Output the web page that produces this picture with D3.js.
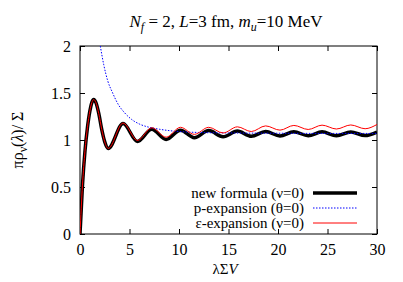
<!DOCTYPE html>
<html>
<head>
<meta charset="utf-8">
<script src="https://cdn.jsdelivr.net/npm/d3@7"></script>
<style>
body { margin: 0; background: #fff; }
text { font-family: "Liberation Serif", "Times New Roman", serif; }
</style>
</head>
<body>
<script>
var width = 403;
var height = 282;

// new formula (nu=0)
var newX = [0, 0.25, 0.5, 0.75, 1.0, 1.2, 1.38, 1.6, 1.9, 2.2, 2.5, 2.85, 4.35, 5.8, 7.25, 8.7, 10.15, 11.55, 13.0, 14.45, 15.9, 17.3, 18.75, 20.2, 21.6, 23.05, 24.45, 25.9, 27.35, 28.8, 30];
var newY = [0, 0.52, 0.88, 1.13, 1.31, 1.40, 1.43, 1.40, 1.28, 1.11, 0.98, 0.91, 1.175, 0.985, 1.115, 1.005, 1.105, 1.025, 1.10, 1.035, 1.095, 1.04, 1.09, 1.043, 1.088, 1.045, 1.087, 1.045, 1.086, 1.047, 1.085];

// p-expansion (theta=0)
var pX = [2.05, 2.4, 2.8, 3.3, 3.8, 4.5, 5.2, 6, 7, 8, 9, 10, 12, 15, 20, 25, 30];
var pY = [2.0, 1.8, 1.63, 1.5, 1.39, 1.29, 1.22, 1.17, 1.135, 1.115, 1.10, 1.09, 1.08, 1.075, 1.072, 1.07, 1.07];

// epsilon-expansion (nu=0)
var epsX = [0, 0.25, 0.5, 0.75, 1.0, 1.2, 1.38, 1.6, 1.9, 2.2, 2.5, 2.85, 4.35, 5.8, 7.25, 8.7, 10.15, 11.55, 13.0, 14.45, 15.9, 17.3, 18.75, 20.2, 21.6, 23.05, 24.45, 25.9, 27.35, 28.8, 30];
var epsY = [0, 0.52, 0.88, 1.13, 1.31, 1.40, 1.43, 1.40, 1.28, 1.11, 0.98, 0.91, 1.18, 0.995, 1.13, 1.03, 1.135, 1.06, 1.135, 1.075, 1.14, 1.09, 1.15, 1.105, 1.155, 1.112, 1.158, 1.117, 1.16, 1.12, 1.165];

var xTicks = [0, 5, 10, 15, 20, 25, 30];
var yTicks = [0, 0.5, 1, 1.5, 2];

var legendLabels = ["new formula (\u03bd=0)", "p-expansion (\u03b8=0)", "\u03b5-expansion (\u03bd=0)"];

var plotLeft = 80, plotRight = 377, plotTop = 46, plotBottom = 234;

var svg = d3.select("body").append("svg")
    .attr("width", width)
    .attr("height", height);

var xScale = d3.scaleLinear().domain([0, 30]).range([plotLeft, plotRight]);
var yScale = d3.scaleLinear().domain([0, 2]).range([plotBottom, plotTop]);

svg.append("defs").append("clipPath").attr("id", "clip")
    .append("rect")
    .attr("x", plotLeft).attr("y", plotTop)
    .attr("width", plotRight - plotLeft).attr("height", plotBottom - plotTop);

// axes with inward ticks, mirrored
var tickFont = 16;
var xAxis = d3.axisBottom(xScale).tickValues(xTicks).tickSizeInner(-5).tickSizeOuter(0).tickPadding(10);
var xAxisTop = d3.axisTop(xScale).tickValues(xTicks).tickSizeInner(-5).tickSizeOuter(0).tickFormat("");
var yAxis = d3.axisLeft(yScale).tickValues(yTicks).tickSizeInner(-5).tickSizeOuter(0).tickPadding(9).tickFormat(d3.format("~g"));
var yAxisRight = d3.axisRight(yScale).tickValues(yTicks).tickSizeInner(-5).tickSizeOuter(0).tickFormat("");

svg.append("g").attr("transform", "translate(0," + plotBottom + ")").call(xAxis);
svg.append("g").attr("transform", "translate(0," + plotTop + ")").call(xAxisTop);
svg.append("g").attr("transform", "translate(" + plotLeft + ",0)").call(yAxis);
svg.append("g").attr("transform", "translate(" + plotRight + ",0)").call(yAxisRight);

svg.selectAll(".domain").remove();
svg.selectAll(".tick line").attr("stroke", "#000");
svg.selectAll(".tick text")
    .attr("font-family", "Liberation Serif, serif")
    .attr("font-size", tickFont)
    .attr("fill", "#000");

svg.append("rect")
    .attr("x", plotLeft).attr("y", plotTop)
    .attr("width", plotRight - plotLeft).attr("height", plotBottom - plotTop)
    .attr("fill", "none").attr("stroke", "#000").attr("stroke-width", 1);

var line = d3.line()
    .x(d => xScale(d[0]))
    .y(d => yScale(d[1]))
    .curve(d3.curveMonotoneX);

var plot = svg.append("g").attr("clip-path", "url(#clip)");

plot.append("path")
    .datum(d3.zip(newX, newY))
    .attr("fill", "none")
    .attr("stroke", "#000")
    .attr("stroke-width", 3.5)
    .attr("d", line);

plot.append("path")
    .datum(d3.zip(pX, pY))
    .attr("fill", "none")
    .attr("stroke", "#0000ff")
    .attr("stroke-width", 1)
    .attr("stroke-dasharray", "1.5,1.5")
    .attr("d", line);

plot.append("path")
    .datum(d3.zip(epsX, epsY))
    .attr("fill", "none")
    .attr("stroke", "#ff0000")
    .attr("stroke-width", 1)
    .attr("d", line);

// legend
var legendStyles = [
    { stroke: "#000", width: 3.5, dash: null },
    { stroke: "#0000ff", width: 1, dash: "1.5,1.5" },
    { stroke: "#ff0000", width: 1, dash: null }
];
var legend = svg.append("g");
legendLabels.forEach(function (label, i) {
    var y = 193 + i * 15;
    legend.append("text")
        .attr("x", 304).attr("y", y + 5)
        .attr("text-anchor", "end")
        .attr("font-size", 15)
        .text(label);
    legend.append("line")
        .attr("x1", 313).attr("x2", 357)
        .attr("y1", y).attr("y2", y)
        .attr("stroke", legendStyles[i].stroke)
        .attr("stroke-width", legendStyles[i].width)
        .attr("stroke-dasharray", legendStyles[i].dash);
});

// title
var title = svg.append("text")
    .attr("x", 226).attr("y", 27)
    .attr("text-anchor", "middle")
    .attr("font-size", 17);
title.append("tspan").attr("font-style", "italic").text("N");
title.append("tspan").attr("font-style", "italic").attr("font-size", 12).attr("dy", 4).text("f");
title.append("tspan").attr("dy", -4).text(" = 2, ");
title.append("tspan").attr("font-style", "italic").text("L");
title.append("tspan").text("=3 fm, ");
title.append("tspan").attr("font-style", "italic").text("m");
title.append("tspan").attr("font-style", "italic").attr("font-size", 12).attr("dy", 4).text("u");
title.append("tspan").attr("dy", -4).text("=10 MeV");

// y label
var ylab = svg.append("text")
    .attr("transform", "translate(23,140) rotate(-90)")
    .attr("text-anchor", "middle")
    .attr("font-size", 16);
ylab.append("tspan").text("\u03c0\u03c1");
ylab.append("tspan").attr("font-size", 12).attr("dy", 4).text("\u03bd");
ylab.append("tspan").attr("dy", -4).text("(");
ylab.append("tspan").attr("font-style", "italic").text("\u03bb");
ylab.append("tspan").text(")/ \u03a3");

// x label
var xlab = svg.append("text")
    .attr("x", 225).attr("y", 274)
    .attr("text-anchor", "middle")
    .attr("font-size", 15);
xlab.append("tspan").text("\u03bb\u03a3");
xlab.append("tspan").attr("font-style", "italic").text("V");
</script>
</body>
</html>
